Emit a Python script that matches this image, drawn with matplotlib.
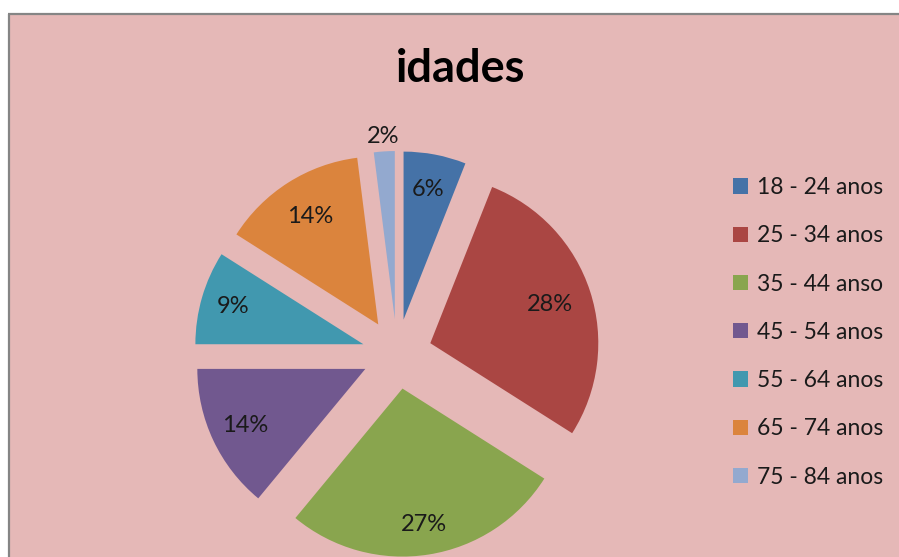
import numpy as np
import matplotlib.pyplot as plt
from matplotlib.patches import Rectangle

# dados do grafico
faixas = ["18 - 24 anos", "25 - 34 anos", "35 - 44 anso", "45 - 54 anos",
          "55 - 64 anos", "65 - 74 anos", "75 - 84 anos"]
percentagens = [6, 28, 27, 14, 9, 14, 2]
cores = ["#4572A7", "#AA4643", "#89A54E", "#71588F", "#4198AF", "#DB843D", "#93A9CF"]

W, H = 899, 557
plt.rcParams['font.family'] = ['Lato', 'DejaVu Sans']

fig = plt.figure(figsize=(W / 100, H / 100), dpi=100)
ax = fig.add_axes([0, 0, 1, 1])

# fundo rosa com borda cinza (topo e esquerda)
ax.add_patch(Rectangle((9, -2), W, H - 14 + 2, facecolor="#E5B8B7", edgecolor='none', zorder=0))
ax.plot([8, W + 2], [H - 14, H - 14], color="#858585", lw=1.6, zorder=1, solid_capstyle='butt')
ax.plot([9, 9], [-2, H - 14], color="#858585", lw=1.6, zorder=1, solid_capstyle='butt')

cx, cy, raio = 397, H - 354, 168
wedges, _ = ax.pie(percentagens, colors=cores, startangle=90, counterclock=False,
                   center=(cx, cy), radius=raio, explode=[35] * len(percentagens),
                   frame=True, wedgeprops=dict(linewidth=0, zorder=2))
ax.set_xlim(0, W)
ax.set_ylim(0, H)
ax.set_aspect('auto')
ax.axis('off')

# rotulos de percentagem
dist = [0.79, 0.75, 0.82, 0.79, 0.81, 0.76, 1.09]
for w, p, d in zip(wedges, percentagens, dist):
    t = np.deg2rad((w.theta1 + w.theta2) / 2)
    x0, y0 = w.center
    ax.text(x0 + d * w.r * np.cos(t), y0 + d * w.r * np.sin(t), f"{p}%",
            ha='center', va='center', fontsize=17, color='#1a1a1a', zorder=3)

ax.text(461, H - 69, "idades", ha='center', va='center', fontsize=32.5,
        fontweight='bold', color='black', zorder=3)

leg = ax.legend(wedges, faixas, loc='upper left', bbox_to_anchor=(733, H - 177),
                bbox_transform=ax.transData, frameon=False, fontsize=16.5,
                handlelength=0.65, handleheight=0.65, handletextpad=0.4,
                labelspacing=1.19, borderpad=0, borderaxespad=0)
for txt in leg.get_texts():
    txt.set_color('#1a1a1a')

fig.savefig("out.png", dpi=100, facecolor='white')
